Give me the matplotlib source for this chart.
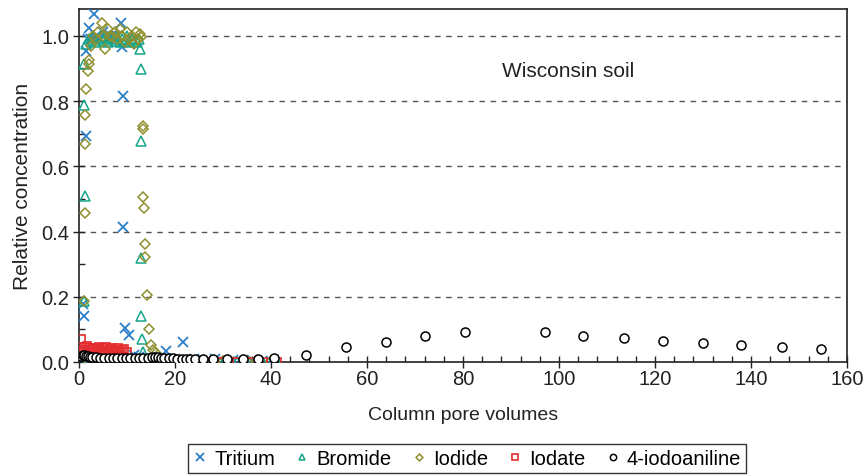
import matplotlib
matplotlib.use("Agg")
import matplotlib.pyplot as plt
from matplotlib.ticker import MultipleLocator

plt.rcParams['font.family'] = ['Liberation Sans', 'DejaVu Sans']

# ---------------- data ----------------
tritium_x = [0.3, 0.6, 0.9, 1.0, 1.5, 1.5, 1.8, 2.1, 2.6, 3.1, 3.6, 4.2, 5.0, 5.8, 6.6, 7.4, 8.0,
             8.7, 8.9, 9.1, 9.2, 9.6, 10.5, 11.5, 12.5, 14.0, 16.0, 18.1, 20.0, 21.6, 24.0, 28.3,
             32.0, 36.0, 40.0]
tritium_y = [0.0, 0.01, 0.177, 0.14, 0.693, 0.952, 0.99, 1.023, 0.99, 1.067, 1.0, 0.99, 1.01, 0.99,
             1.0, 0.985, 1.0, 1.04, 0.965, 0.814, 0.415, 0.104, 0.083, 0.02, 0.015, 0.01, 0.01, 0.033,
             0.01, 0.061, 0.008, 0.01, 0.005, 0.005, 0.004]

bromide_x = [0.3, 0.6, 1.0, 1.0, 1.0, 1.25, 1.5, 2.0, 2.5, 3.0, 3.5, 4.0, 4.5, 5.0, 5.5, 6.0, 6.5,
             7.0, 7.5, 8.0, 8.5, 9.0, 9.5, 10.0, 10.5, 11.0, 11.5, 12.0, 12.4, 12.7, 12.9, 13.0,
             13.0, 13.0, 13.2, 13.4, 14.0, 15.0, 17.0, 19.0, 22.0, 25.0, 26.7, 29.4, 32.9, 35.6,
             38.3, 41.2]
bromide_y = [0.0, 0.0, 0.186, 0.914, 0.787, 0.509, 0.975, 0.99, 0.985, 1.0, 0.98, 0.99, 1.0, 0.985,
             0.995, 0.98, 1.0, 0.99, 0.985, 1.0, 0.98, 0.99, 0.985, 1.0, 0.98, 0.99, 0.985, 0.98,
             0.99, 0.96, 0.897, 0.677, 0.32, 0.14, 0.071, 0.03, 0.01, 0.003, 0.002, 0.002, 0.001,
             0.001, 0.001, 0.001, 0.001, 0.001, 0.001, 0.001]

iodide_x = [0.3, 1.0, 1.25, 1.25, 1.25, 1.5, 1.9, 2.1, 2.1, 2.5, 3.0, 3.5, 4.0, 4.7, 5.0, 5.4, 6.0,
            6.5, 7.0, 7.5, 8.0, 8.5, 9.0, 9.5, 10.0, 10.5, 11.0, 11.5, 11.9, 12.3, 12.7, 13.0, 13.3,
            13.3, 13.4, 13.5, 13.75, 13.75, 14.1, 14.5, 15.0, 15.5, 16.0, 18.0, 21.0, 25.0, 30.0,
            35.0, 40.0]
iodide_y = [0.0, 0.187, 0.458, 0.667, 0.756, 0.836, 0.892, 0.912, 0.925, 0.97, 1.0, 0.99, 1.01,
            1.04, 1.0, 0.958, 1.02, 1.0, 0.995, 1.01, 0.99, 1.02, 1.0, 0.98, 1.01, 0.99, 1.0, 0.975,
            1.013, 0.99, 1.005, 0.995, 0.724, 0.713, 0.505, 0.473, 0.362, 0.321, 0.206, 0.1, 0.051,
            0.038, 0.028, 0.01, 0.005, 0.004, 0.003, 0.003, 0.003]

iodate_x = [0.35, 0.5, 0.9, 1.3, 1.7, 2.1, 2.5, 2.9, 3.3, 3.7, 4.1, 4.5, 4.9, 5.3, 5.7, 6.1, 6.5,
            6.9, 7.3, 7.7, 8.1, 8.5, 8.9, 9.3, 9.9, 12.0, 15.0, 18.0, 21.0, 23.5, 26.7, 29.4, 32.9,
            35.6, 38.3, 41.2]
iodate_y = [0.071, 0.03, 0.038, 0.046, 0.048, 0.042, 0.036, 0.044, 0.032, 0.041, 0.046, 0.034,
            0.042, 0.037, 0.045, 0.032, 0.04, 0.043, 0.033, 0.038, 0.042, 0.031, 0.037, 0.04,
            0.032, 0.006, 0.004, 0.003, 0.002, 0.002, 0.001, 0.001, 0.001, 0.001, 0.001, 0.001]

aniline_x = [0.2, 0.5, 0.8, 1.1, 1.5, 1.9, 2.3, 2.8, 3.6, 4.4, 5.3, 6.2, 7.1, 8.0, 8.9, 9.8, 10.7,
             11.6, 12.5, 13.4, 14.3, 15.2, 15.8, 16.4, 17.0, 17.8, 18.7, 19.6, 20.5, 21.4, 22.3,
             23.2, 24.1, 25.8, 27.9, 30.8, 34.1, 37.3, 40.6, 47.3, 55.6, 64.0, 72.0, 80.4, 97.0,
             105.0, 113.5, 121.7, 130.0, 138.0, 146.5, 154.6]
aniline_y = [0.015, 0.018, 0.02, 0.02, 0.019, 0.018, 0.016, 0.015, 0.014, 0.013, 0.012, 0.012,
             0.012, 0.011, 0.011, 0.011, 0.011, 0.011, 0.011, 0.011, 0.012, 0.014, 0.015, 0.014,
             0.012, 0.011, 0.011, 0.011, 0.01, 0.01, 0.01, 0.01, 0.009, 0.008, 0.008, 0.008,
             0.008, 0.01, 0.012, 0.021, 0.046, 0.061, 0.08, 0.092, 0.092, 0.08, 0.073, 0.064,
             0.058, 0.052, 0.046, 0.04]

annotation = "Wisconsin soil"
x_label = "Column pore volumes"
y_label = "Relative concentration"

# ---------------- figure ----------------
fig = plt.figure(figsize=(8.64, 4.77), dpi=100)
W, H = 864, 477
ax = fig.add_axes([79 / W, 1 - 363 / H, (847 - 79) / W, (363 - 10) / H])

c_tri = "#2b7fc9"
c_br = "#14a58a"
c_iod = "#8f8f2e"
c_io3 = "#e32c2e"

ax.plot(tritium_x, tritium_y, 'x', ms=7.5, mew=1.3, color=c_tri, label="Tritium", zorder=3)
ax.plot(bromide_x, bromide_y, '^', ms=6.5, mew=1.1, mfc='none', mec=c_br, label="Bromide", zorder=3)
ax.plot(iodide_x, iodide_y, 'D', ms=5.0, mew=1.1, mfc='none', mec=c_iod, label="Iodide", zorder=3)
ax.plot(iodate_x, iodate_y, 's', ms=5.5, mew=1.2, mfc='none', mec=c_io3, label="Iodate", zorder=3)
ax.plot(aniline_x, aniline_y, 'o', ms=6.5, mew=1.1, mfc='white', mec='black', label="4-iodoaniline", zorder=4)

ax.set_xlim(0, 160)
ax.set_ylim(0, 1.082)
ax.xaxis.set_major_locator(MultipleLocator(20))
ax.xaxis.set_minor_locator(MultipleLocator(4))
ax.yaxis.set_minor_locator(MultipleLocator(0.1))
ax.set_yticks([0.0, 0.2, 0.4, 0.6, 0.8, 1.0])
ax.set_yticklabels(["0.0", "0.2", "0.4", "0.6", "0.8", "1.0"])

for yv in [0.2, 0.4, 0.6, 0.8, 1.0]:
    ax.axhline(yv, color="#555555", lw=1.0, ls=(0, (4, 4)), zorder=1)

ax.tick_params(axis='both', which='major', labelsize=14.5, direction='inout', length=8,
               width=1.0, colors='#222222', labelcolor='#222222')
ax.tick_params(axis='both', which='minor', direction='in', length=4, width=1.0, colors='#222222')
ax.tick_params(axis='x', which='major', pad=1)
ax.tick_params(axis='y', which='major', pad=3)

for s in ax.spines.values():
    s.set_color('#222222')
    s.set_linewidth(1.2)

ax.set_xlabel(x_label, fontsize=14, color='#222222', labelpad=13)
ax.set_ylabel(y_label, fontsize=15, color='#222222', labelpad=7)

ax.text(102, 0.876, annotation, fontsize=15, ha='center', va='baseline', color='#222222')

leg = fig.legend(loc='upper center', bbox_to_anchor=(467 / W, 1 - 445 / H), ncol=5,
                 fontsize=14.5, markerscale=0.7, handlelength=0.7, handletextpad=0.35,
                 columnspacing=1.0, borderpad=0.25, frameon=True, fancybox=False,
                 edgecolor='black', borderaxespad=0)
leg.get_frame().set_linewidth(1.0)

fig.savefig("out.png", dpi=100)
